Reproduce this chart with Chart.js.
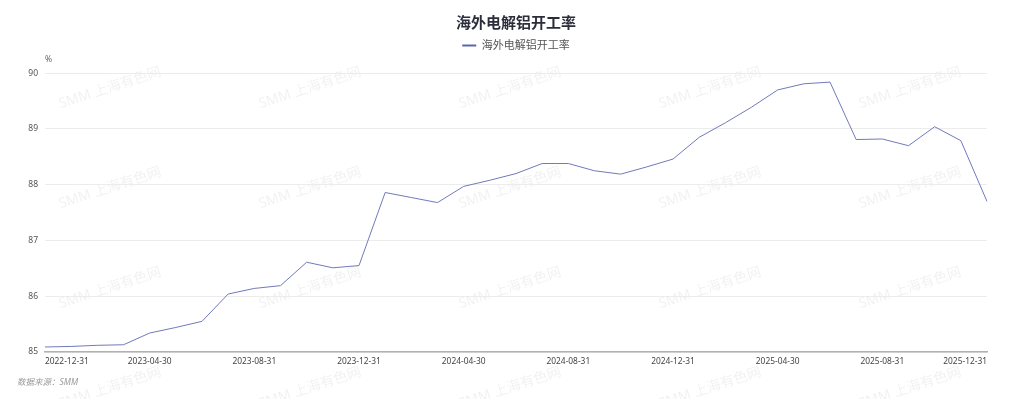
<!DOCTYPE html>
<html>
<head>
<meta charset="utf-8">
<script src="https://cdn.jsdelivr.net/npm/chart.js@4/dist/chart.umd.min.js"></script>
<style>
    html, body { margin: 0; padding: 0; background: #fff; }
    #wrap { width: 1024px; height: 399px; }
</style>
</head>
<body>
<div id="wrap"><canvas id="chart" width="1024" height="399"></canvas></div>
<script>
// ==================== Data ====================

const titleText = '海外电解铝开工率';
const seriesName = '海外电解铝开工率';
const unitLabel = '%';
const sourceNote = '数据来源：SMM';
const watermarkText = 'SMM 上海有色网';

const dates = [
    '2022-12-31', '2023-01-31', '2023-02-28', '2023-03-31', '2023-04-30', '2023-05-31',
    '2023-06-30', '2023-07-31', '2023-08-31', '2023-09-30', '2023-10-31', '2023-11-30',
    '2023-12-31', '2024-01-31', '2024-02-29', '2024-03-31', '2024-04-30', '2024-05-31',
    '2024-06-30', '2024-07-31', '2024-08-31', '2024-09-30', '2024-10-31', '2024-11-30',
    '2024-12-31', '2025-01-31', '2025-02-28', '2025-03-31', '2025-04-30', '2025-05-31',
    '2025-06-30', '2025-07-31', '2025-08-31', '2025-09-30', '2025-10-31', '2025-11-30',
    '2025-12-31'
];

const operatingRate = [
    85.09, 85.10, 85.12, 85.13, 85.34, 85.44, 85.55, 86.04, 86.14, 86.19,
    86.61, 86.51, 86.55, 87.86, 87.77, 87.68, 87.97, 88.08, 88.20, 88.38,
    88.38, 88.25, 88.19, 88.32, 88.46, 88.85, 89.11, 89.39, 89.70, 89.81,
    89.84, 88.81, 88.82, 88.70, 89.04, 88.79, 87.70
];

const yMin = 85;
const yMax = 90;

const FONT = '"Noto Sans", "Noto Sans CJK SC", sans-serif';

// ==================== Plugins ====================

// faint diagonal watermark behind the plot
const watermarkPlugin = {
    id: 'watermark',
    beforeDraw(chart) {
        const ctx = chart.ctx;
        ctx.save();
        ctx.font = '14px ' + FONT;
        ctx.fillStyle = 'rgba(0, 0, 0, 0.06)';
        ctx.textAlign = 'center';
        ctx.textBaseline = 'middle';
        for (let row = 0; row < 4; row++) {
            for (let col = 0; col < 5; col++) {
                ctx.save();
                ctx.translate(110 + col * 200, 88 + row * 100);
                ctx.rotate(-18 * Math.PI / 180);
                ctx.fillText(watermarkText, 0, 0);
                ctx.restore();
            }
        }
        ctx.restore();
    }
};

// source note at the bottom left
const sourcePlugin = {
    id: 'sourceNote',
    afterDraw(chart) {
        const ctx = chart.ctx;
        ctx.save();
        ctx.font = 'italic 8.5px ' + FONT;
        ctx.fillStyle = '#999';
        ctx.textAlign = 'left';
        ctx.textBaseline = 'middle';
        ctx.fillText(sourceNote, 17, 383);
        ctx.restore();
    }
};

// ==================== Chart ====================

const ctx = document.getElementById('chart');

new Chart(ctx, {
    type: 'line',
    data: {
        labels: dates,
        datasets: [{
            label: seriesName,
            data: operatingRate,
            borderColor: '#717ab9',
            backgroundColor: '#5b67aa',
            borderWidth: 1,
            tension: 0,
            pointRadius: 0,
            pointHoverRadius: 0,
            fill: false
        }]
    },
    options: {
        responsive: false,
        animation: false,
        layout: {
            padding: { top: 0, right: 37, bottom: 0, left: 0 }
        },
        plugins: {
            title: {
                display: true,
                fullSize: false,
                text: titleText,
                color: '#2b2d3a',
                font: { family: FONT, size: 15, weight: 'bold' },
                padding: { top: 15, bottom: -15 }
            },
            legend: {
                display: true,
                fullSize: false,
                labels: {
                    usePointStyle: true,
                    pointStyle: 'line',
                    pointStyleWidth: 14,
                    color: '#555',
                    font: { family: FONT, size: 11 },
                    padding: 22,
                    generateLabels(chart) {
                        const items = Chart.defaults.plugins.legend.labels.generateLabels(chart);
                        items.forEach(item => {
                            item.lineWidth = 2;
                            item.strokeStyle = '#5b67aa';
                        });
                        return items;
                    }
                }
            },
            // unit label sits between the legend and the plot
            subtitle: {
                display: true,
                text: unitLabel,
                align: 'start',
                fullSize: false,
                weight: 500,
                color: '#666',
                font: { family: FONT, size: 8.5 },
                padding: { top: -7, bottom: 9 }
            },
            tooltip: { enabled: false }
        },
        scales: {
            x: {
                grid: { display: false, drawTicks: false },
                border: { color: '#aeb1b8', width: 1.5 },
                ticks: {
                    autoSkip: false,
                    maxRotation: 0,
                    align: 'inner',
                    padding: 5,
                    color: '#444',
                    font: { family: FONT, size: 8.4 },
                    callback: function(value, index) {
                        return index % 4 === 0 ? this.getLabelForValue(value) : '';
                    }
                },
                afterFit(scale) {
                    scale.height = 47;
                }
            },
            y: {
                min: yMin,
                max: yMax,
                grid: { color: '#ececec', drawTicks: false },
                border: { display: false },
                ticks: {
                    stepSize: 1,
                    padding: 7,
                    color: '#555',
                    font: { family: FONT, size: 8.5 }
                },
                afterFit(scale) {
                    scale.width = 45;
                }
            }
        }
    },
    plugins: [watermarkPlugin, sourcePlugin]
});
</script>
</body>
</html>
